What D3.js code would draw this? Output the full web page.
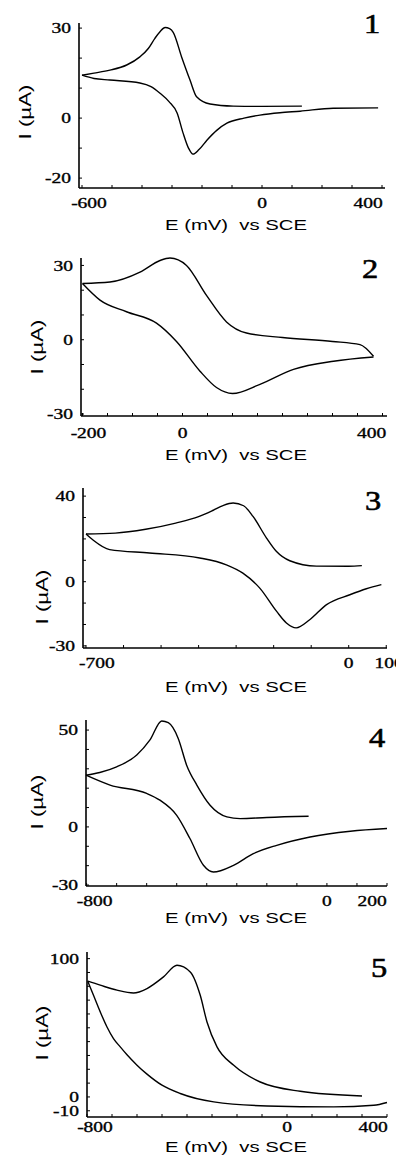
<!DOCTYPE html>
<html>
<head>
<meta charset="utf-8">
<script src="https://cdn.jsdelivr.net/npm/d3@7"></script>
<style>
  body { margin: 0; background: #fff; }
  svg { display: block; }
</style>
</head>
<body>
<svg id="chart" width="396" height="1163"></svg>
<script>
// cyclic voltammograms, E (mV) vs I (uA), two branches each
const p1Upper = [[-600,14.3],[-560,15],[-507,16],[-451,17.7],[-407,20.4],[-379,23.2],[-357,26.6],[-340,28.8],[-323,30.2],[-308,29.8],[-296,28.6],[-268,20.4],[-240,12.7],[-218,7.1],[-173,4.7],[-96,4],[0,3.9],[133,4]];
const p1Lower = [[-600,14.3],[-560,13.2],[-507,12.7],[-407,11.7],[-370,10.5],[-340,8.3],[-310,5.5],[-283,1.7],[-263,-5],[-245,-10],[-230,-12],[-210,-10.5],[-183,-7.3],[-150,-4],[-117,-1.7],[-60,0],[-7,1],[60,1.8],[127,2.3],[237,3.3],[387,3.4]];
const p1XTicks = [-600, 0, 400];
const p1YTicks = [30, 0, -20];

const p2Upper = [[-200,22.7],[-145,23.3],[-85,27.3],[-45,32],[-25,33],[8,30],[48,17.9],[88,7.2],[128,2.7],[200,0.9],[300,-0.7],[355,-2],[382,-6.7]];
const p2Lower = [[-200,22.7],[-165,16],[-112,11.3],[-52,6.7],[-12,-0.7],[35,-12.7],[68,-19.3],[100,-21.7],[155,-18],[222,-12],[302,-8.7],[382,-7]];
const p2XTicks = [-200, 0, 400];
const p2YTicks = [30, 0, -30];

const p3Upper = [[-700,22.3],[-622,22.7],[-541,24.5],[-461,27.4],[-400,30.4],[-361,33.4],[-335,35.6],[-308,36.8],[-280,35.5],[-255,30.5],[-219,20.4],[-193,14.2],[-157,9.8],[-86,7.3],[0,7.2],[35,7.5]];
const p3Lower = [[-700,22.3],[-682,19.6],[-637,15],[-531,13.4],[-397,11.1],[-326,7.9],[-282,4],[-237,-3],[-192,-13.9],[-166,-19.3],[-140,-21.6],[-104,-17.8],[-59,-10.7],[3,-6.1],[47,-3.3],[87,-1.4]];
const p3XTicks = [-700, 0, 100];
const p3YTicks = [40, 0, -30];

const p4Upper = [[-802,26.7],[-756,28.1],[-700,31],[-633,37.1],[-589,44.9],[-550,54.7],[-528,53.8],[-495,45.7],[-467,31.9],[-433,21.6],[-389,11.2],[-333,5.2],[-289,4.3],[-200,4.9],[-61,5.5]];
const p4Lower = [[-802,26.7],[-722,21.6],[-600,17.3],[-556,13.8],[-500,6],[-456,-6],[-411,-19.8],[-378,-23.3],[-311,-19.8],[-245,-13.8],[-167,-9.5],[-56,-5.2],[78,-2.2],[200,-0.8]];
const p4XTicks = [-800, 0, 200];
const p4YTicks = [50, 0, -30];

const p5Upper = [[-797,83.7],[-747,80.8],[-680,77.2],[-614,75.2],[-560,78.4],[-494,86.8],[-440,95.2],[-387,90.4],[-347,73.5],[-320,54.2],[-280,36.2],[-213,22.9],[-107,10.8],[53,4.1],[300,0.7]];
const p5Lower = [[-797,83.7],[-774,73.5],[-747,61.5],[-720,50.6],[-694,42.2],[-667,36.2],[-640,30.5],[-600,23],[-560,16.5],[-500,8.5],[-427,2.5],[-293,-3.6],[-80,-6.5],[187,-7.2],[347,-6],[400,-4]];
const p5XTicks = [-800, 0, 400];
const p5YTicks = [100, 0, -10];

const panels = [
  { num: "1", upper: p1Upper, lower: p1Lower, xTicks: p1XTicks, yTicks: p1YTicks,
    xDomain: [-610, 410], yDomain: [-23.3, 31.7], left: 79, right: 385, top: 23, bottom: 188,
    xStep: 100, tickBase: 208, titleY: 230, yTitle: [25, 112], numPos: [372, 33], edge: [7, -14] },
  { num: "2", upper: p2Upper, lower: p2Lower, xTicks: p2XTicks, yTicks: p2YTicks,
    xDomain: [-203, 409], yDomain: [-30.8, 33.0], left: 81, right: 387, top: 258, bottom: 416,
    xStep: 50, tickBase: 438, titleY: 460, yTitle: [37, 347], numPos: [370, 278], edge: [6, -11] },
  { num: "3", upper: p3Upper, lower: p3Lower, xTicks: p3XTicks, yTicks: p3YTicks,
    xDomain: [-708, 102], yDomain: [-31.0, 43.8], left: 83, right: 387, top: 488, bottom: 648,
    xStep: 100, tickBase: 668, titleY: 692, yTitle: [42, 597], numPos: [373, 510], edge: [11, 3] },
  { num: "4", upper: p4Upper, lower: p4Lower, xTicks: p4XTicks, yTicks: p4YTicks,
    xDomain: [-802, 200], yDomain: [-30.5, 55.2], left: 86, right: 387, top: 720, bottom: 886,
    xStep: 100, tickBase: 906, titleY: 923, yTitle: [37, 802], numPos: [377, 747], edge: [8, -15] },
  { num: "5", upper: p5Upper, lower: p5Lower, xTicks: p5XTicks, yTicks: p5YTicks,
    xDomain: [-800, 400], yDomain: [-14.5, 104.8], left: 87, right: 387, top: 952, bottom: 1117,
    xStep: 100, tickBase: 1132, titleY: 1152, yTitle: [42, 1033], numPos: [379, 977], edge: [8, -14] }
];

const svg = d3.select("#chart");

// stretch text horizontally like the scanned original
function stretch(sel, f) {
  sel.each(function() {
    const w = this.getComputedTextLength();
    d3.select(this).attr("textLength", w * f).attr("lengthAdjust", "spacingAndGlyphs");
  });
}

panels.forEach(p => {
  const x = d3.scaleLinear().domain(p.xDomain).range([p.left, p.right]);
  const y = d3.scaleLinear().domain(p.yDomain).range([p.bottom, p.top]);
  const g = svg.append("g");

  // axes
  g.append("line")
    .attr("x1", p.left).attr("x2", p.left)
    .attr("y1", p.top).attr("y2", p.bottom)
    .attr("stroke", "#000").attr("stroke-width", 1.6);
  g.append("line")
    .attr("x1", p.left).attr("x2", p.right)
    .attr("y1", p.bottom).attr("y2", p.bottom)
    .attr("stroke", "#000").attr("stroke-width", 1.6);

  // small inward ticks
  const xMinor = d3.range(Math.ceil(p.xDomain[0] / p.xStep) * p.xStep, p.xDomain[1] + 1, p.xStep);
  g.selectAll(".xt").data(xMinor).enter().append("line")
    .attr("x1", d => x(d)).attr("x2", d => x(d))
    .attr("y1", p.bottom).attr("y2", p.bottom - 3)
    .attr("stroke", "#000").attr("stroke-width", 1);
  const yMinor = d3.range(Math.ceil(p.yDomain[0] / 10) * 10, p.yDomain[1], 10);
  g.selectAll(".yt").data(yMinor).enter().append("line")
    .attr("x1", p.left).attr("x2", p.left + 3)
    .attr("y1", d => y(d)).attr("y2", d => y(d))
    .attr("stroke", "#000").attr("stroke-width", 1);

  // tick labels
  const n = p.xTicks.length;
  g.selectAll(".xl").data(p.xTicks).enter().append("text")
    .attr("x", (d, i) => x(d) + (i === 0 ? p.edge[0] : i === n - 1 ? p.edge[1] : 0))
    .attr("y", p.tickBase)
    .attr("text-anchor", "middle")
    .attr("font-family", "Liberation Serif, Times New Roman, serif")
    .attr("font-size", 15)
    .attr("stroke", "#000").attr("stroke-width", 0.35)
    .text(d => d)
    .call(stretch, 1.3);

  g.selectAll(".yl").data(p.yTicks).enter().append("text")
    .attr("x", p.left - 8)
    .attr("y", d => y(d))
    .attr("dy", "0.35em")
    .attr("text-anchor", "end")
    .attr("font-family", "Liberation Serif, Times New Roman, serif")
    .attr("font-size", 15)
    .attr("stroke", "#000").attr("stroke-width", 0.35)
    .text(d => d)
    .call(stretch, 1.3);

  // axis titles
  g.append("text")
    .attr("x", 236).attr("y", p.titleY)
    .attr("text-anchor", "middle")
    .attr("font-family", "Liberation Sans, Arial, sans-serif")
    .attr("font-size", 15)
    .style("white-space", "pre")
    .attr("textLength", 142).attr("lengthAdjust", "spacingAndGlyphs")
    .text("E (mV)  vs SCE");

  g.append("text")
    .attr("transform", `translate(${p.yTitle[0]},${p.yTitle[1]}) rotate(-90)`)
    .attr("text-anchor", "middle")
    .attr("dy", "0.35em")
    .attr("font-family", "Liberation Sans, Arial, sans-serif")
    .attr("font-size", 17)
    .attr("textLength", 55).attr("lengthAdjust", "spacingAndGlyphs")
    .text("I (µA)");

  // panel number
  g.append("text")
    .attr("x", p.numPos[0]).attr("y", p.numPos[1])
    .attr("text-anchor", "middle")
    .attr("font-family", "Liberation Serif, Times New Roman, serif")
    .attr("font-size", 27)
    .attr("stroke", "#000").attr("stroke-width", 0.6)
    .text(p.num)
    .call(stretch, 1.2);

  // curves
  const line = d3.line()
    .x(d => x(d[0]))
    .y(d => y(d[1]))
    .curve(d3.curveMonotoneX);
  [p.upper, p.lower].forEach(branch => {
    g.append("path")
      .datum(branch)
      .attr("d", line)
      .attr("fill", "none")
      .attr("stroke", "#000")
      .attr("stroke-width", 1.4);
  });
});
</script>
</body>
</html>
